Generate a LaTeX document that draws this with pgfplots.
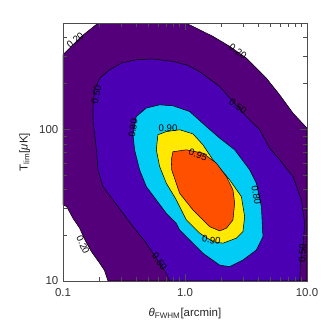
\documentclass[border=0pt]{standalone}
\usepackage{pgfplots}
\pgfplotsset{compat=1.18}
\usepackage{fontspec}
\setmainfont{Liberation Sans}

% contour levels, IDL-like colours
\definecolor{lev20}{RGB}{84,0,122}
\definecolor{lev50}{RGB}{76,0,180}
\definecolor{lev80}{RGB}{0,204,245}
\definecolor{lev90}{RGB}{255,233,0}
\definecolor{lev95}{RGB}{255,80,0}

\begin{document}
\begin{tikzpicture}
% axes are in log10 units: x = log10(theta_FWHM), y = log10(T_lim)
\begin{axis}[
  name=ax,
  scale only axis,
  width=183pt, height=193.5pt,
  xmin=-1, xmax=1, ymin=1, ymax=2.699,
  axis on top,
  axis line style={black!70, line width=0.5pt},
  tick style={black!70, line width=0.4pt},
  major tick length=5pt, minor tick length=3pt,
  tick align=inside,
  xtick={-1,0,1}, xticklabels={0.1,1.0,10.0},
  minor xtick={-0.699,-0.523,-0.398,-0.301,-0.222,-0.155,-0.097,-0.046,
               0.301,0.477,0.602,0.699,0.778,0.845,0.903,0.954},
  ytick={1,2}, yticklabels={10,100},
  minor ytick={1.301,1.477,1.602,1.699,1.778,1.845,1.903,1.954,
               2.301,2.477,2.602},
  ticklabel style={font=\fontsize{8.6}{9}\selectfont, text=black!80},
  xticklabel style={yshift=-2pt},
  xlabel={{\itshape θ}\textsubscript{FWHM}[arcmin]},
  ylabel={T\textsubscript{lim}[{\itshape μ}K]},
  xlabel style={yshift=-2pt},
  label style={font=\fontsize{8.6}{9}\selectfont, text=black!85},
  every axis plot/.append style={draw=black, line width=0.4pt},
]
% 0.20 level
\addplot[fill=lev20] coordinates {
  (-1,1.501) (-1,2.490) (-0.849,2.611) (-0.705,2.703) (-0.003,2.703)
  (0.229,2.611) (0.366,2.545) (0.503,2.468) (0.667,2.336) (0.776,2.226)
  (0.885,2.106) (1,2.007) (1,1) (-0.631,1) (-0.66,1.07) (-0.699,1.117)
  (-0.767,1.193) (-0.82,1.27) (-0.863,1.347) (-0.918,1.413) (-0.97,1.49)
} -- cycle;
% 0.50 level
\addplot[fill=lev50] coordinates {
  (-0.126,1.0) (-0.153,1.051) (-0.317,1.249) (-0.426,1.358) (-0.508,1.446)
  (-0.590,1.534) (-0.672,1.622) (-0.713,1.732) (-0.726,1.864) (-0.754,2.062)
  (-0.754,2.149) (-0.740,2.259) (-0.699,2.336) (-0.617,2.391) (-0.522,2.435)
  (-0.399,2.457) (-0.263,2.462) (-0.099,2.446) (0.022,2.421) (0.120,2.378)
  (0.284,2.281) (0.503,2.083) (0.612,1.996) (0.694,1.875) (0.776,1.798)
  (0.885,1.688) (0.954,1.534) (0.981,1.380) (0.967,1.226) (0.946,1.117)
  (0.940,1.0)
} -- cycle;
% 0.80 level
\addplot[fill=lev80] coordinates {
  (-0.413,1.864) (-0.426,1.963) (-0.399,2.083) (-0.317,2.139) (-0.208,2.160)
  (-0.099,2.154) (0.038,2.116) (0.175,2.017) (0.284,1.941) (0.407,1.864)
  (0.530,1.732) (0.585,1.644) (0.626,1.490) (0.639,1.292) (0.585,1.204)
  (0.475,1.138) (0.366,1.094) (0.284,1.105) (0.147,1.183) (0.038,1.270)
  (-0.044,1.336) (-0.071,1.380) (-0.153,1.446) (-0.235,1.534) (-0.317,1.622)
  (-0.372,1.732)
} -- cycle;
% 0.90 level
\addplot[fill=lev90] coordinates {
  (-0.235,1.864) (-0.222,1.963) (-0.153,1.984) (-0.044,1.996) (0.065,1.969)
  (0.147,1.897) (0.229,1.798) (0.366,1.666) (0.462,1.556) (0.489,1.424)
  (0.475,1.325) (0.421,1.282) (0.311,1.249) (0.229,1.259) (0.120,1.315)
  (0.011,1.402) (-0.071,1.534) (-0.153,1.644) (-0.208,1.754)
} -- cycle;
% 0.95 level
\addplot[fill=lev95] coordinates {
  (-0.099,1.851) (0.011,1.864) (0.147,1.842) (0.257,1.776) (0.339,1.688)
  (0.393,1.600) (0.407,1.512) (0.393,1.402) (0.339,1.347) (0.284,1.330)
  (0.202,1.358) (0.065,1.468) (-0.044,1.578) (-0.109,1.732) (-0.112,1.798)
} -- cycle;

% contour labels
\begin{scope}[every node/.style={font=\fontsize{7.2}{7.2}\selectfont, inner sep=0pt}]
\node[rotate=40]  at (axis cs:-0.90,2.585)  {0.20};
\node[rotate=-35] at (axis cs:0.434,2.512)  {0.20};
\node[rotate=-65] at (axis cs:-0.836,1.238) {0.20};
\node[rotate=78]  at (axis cs:-0.726,2.226) {0.50};
\node[rotate=-35] at (axis cs:0.434,2.149)  {0.50};
\node[rotate=-55] at (axis cs:-0.208,1.127) {0.50};
\node[rotate=88]  at (axis cs:0.962,1.182)  {0.50};
\node[rotate=82]  at (axis cs:-0.426,2.006) {0.80};
\node[rotate=-80] at (axis cs:0.585,1.567)  {0.80};
\node[rotate=0]   at (axis cs:-0.139,2.006) {0.90};
\node[rotate=-10] at (axis cs:0.216,1.270)  {0.90};
\node[rotate=-20] at (axis cs:0.107,1.831)  {0.95};
\end{scope}
\end{axis}
\pgfresetboundingbox
\path ([xshift=-47.25pt,yshift=-34.5pt]ax.south west)
  rectangle ([xshift=15pt,yshift=17.25pt]ax.north east);
\end{tikzpicture}
\end{document}
